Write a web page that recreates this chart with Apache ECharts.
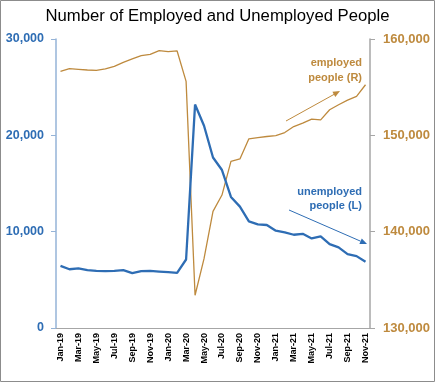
<!DOCTYPE html>
<html><head><meta charset="utf-8">
<script src="https://cdn.jsdelivr.net/npm/echarts@6/dist/echarts.min.js"></script>
<style>html,body{margin:0;padding:0;background:#fff}#c{width:435px;height:382px}</style>
</head><body><div id="c"></div>
<script>
const months = ["Jan-19","Feb-19","Mar-19","Apr-19","May-19","Jun-19","Jul-19","Aug-19","Sep-19","Oct-19","Nov-19","Dec-19",
"Jan-20","Feb-20","Mar-20","Apr-20","May-20","Jun-20","Jul-20","Aug-20","Sep-20","Oct-20","Nov-20","Dec-20",
"Jan-21","Feb-21","Mar-21","Apr-21","May-21","Jun-21","Jul-21","Aug-21","Sep-21","Oct-21","Nov-21"];
const unemployed = [6450,6100,6180,6000,5930,5900,5930,6000,5690,5900,5930,5860,
5790,5720,7110,23200,21000,17700,16400,13600,12600,11070,10760,10690,
10100,9920,9680,9780,9300,9510,8710,8370,7670,7460,6870];
const employed = [156640,156920,156850,156780,156740,156890,157160,157580,157930,158270,158410,158790,
158690,158760,155600,133400,137200,142100,143800,147300,147550,149640,149770,149880,
149980,150290,150910,151270,151690,151610,152650,153170,153650,154040,155250];
const leftTicks = [0,10000,20000,30000];
const rightTicks = [130000,140000,150000,160000];

const BLUE = '#2E6DB4', ORANGE = '#BE8A3E';
const fmt = v => v.toLocaleString('en-US');
const chart = echarts.init(document.getElementById('c'));
chart.setOption({
  animation:false,
  title:{text:'Number of Employed and Unemployed People',left:'center',top:3,
    textStyle:{fontFamily:'Liberation Sans',fontSize:16.7,fontWeight:'normal',color:'#000'}},
  grid:{left:56,right:65,top:39,bottom:54},
  xAxis:{type:'category',data:months,boundaryGap:true,
    axisLine:{lineStyle:{color:'#A6A6A6',width:1}},
    axisTick:{interval:0,length:4,lineStyle:{color:'#A6A6A6'}},
    axisLabel:{interval:1,rotate:90,fontFamily:'Liberation Sans',fontSize:9,fontWeight:'bold',color:'#000',margin:5}},
  yAxis:[
    {type:'value',min:leftTicks[0],max:leftTicks[leftTicks.length-1],interval:10000,position:'left',
     axisLine:{show:true,lineStyle:{color:'#95B3D7',width:1.5}},
     axisTick:{show:true,length:5,lineStyle:{color:'#95B3D7'}},
     splitLine:{show:false},
     axisLabel:{formatter:fmt,fontFamily:'Liberation Sans',fontSize:12.5,fontWeight:'bold',color:BLUE,margin:12}},
    {type:'value',min:rightTicks[0],max:rightTicks[rightTicks.length-1],interval:10000,position:'right',
     axisLine:{show:true,lineStyle:{color:'#A6A6A6',width:1.5}},
     axisTick:{show:true,length:5,lineStyle:{color:'#A6A6A6'}},
     splitLine:{show:false},
     axisLabel:{formatter:fmt,fontFamily:'Liberation Sans',fontSize:13,fontWeight:'bold',color:ORANGE,margin:13}}
  ],
  series:[
    {name:'employed',type:'line',yAxisIndex:1,data:employed,symbol:'none',
     lineStyle:{color:ORANGE,width:1.3},z:2},
    {name:'unemployed',type:'line',yAxisIndex:0,data:unemployed,symbol:'none',
     lineStyle:{color:BLUE,width:2.3},z:3}
  ],
  graphic:[
    {type:'rect',shape:{x:0.5,y:0.5,width:434,height:381},style:{fill:'none',stroke:'#8C8C8C',lineWidth:1},z:-1},
    {type:'text',x:362,y:63,style:{text:'employed',fill:ORANGE,font:'bold 11px "Liberation Sans"',textAlign:'right',textVerticalAlign:'middle'}},
    {type:'text',x:362,y:78,style:{text:'people (R)',fill:ORANGE,font:'bold 11px "Liberation Sans"',textAlign:'right',textVerticalAlign:'middle'}},
    {type:'line',shape:{x1:286,y1:121,x2:334,y2:94.4},style:{stroke:ORANGE,lineWidth:1}},
    {type:'polygon',shape:{points:[[340,91],[335.3,97.0],[332.4,91.8]]},style:{fill:ORANGE}},
    {type:'text',x:362,y:192,style:{text:'unemployed',fill:BLUE,font:'bold 11px "Liberation Sans"',textAlign:'right',textVerticalAlign:'middle'}},
    {type:'text',x:362,y:206,style:{text:'people (L)',fill:BLUE,font:'bold 11px "Liberation Sans"',textAlign:'right',textVerticalAlign:'middle'}},
    {type:'line',shape:{x1:289,y1:210,x2:360.6,y2:241.2},style:{stroke:BLUE,lineWidth:1}},
    {type:'polygon',shape:{points:[[367,244],[359.4,243.95],[361.8,238.4]]},style:{fill:BLUE}}
  ]
});
</script></body></html>
